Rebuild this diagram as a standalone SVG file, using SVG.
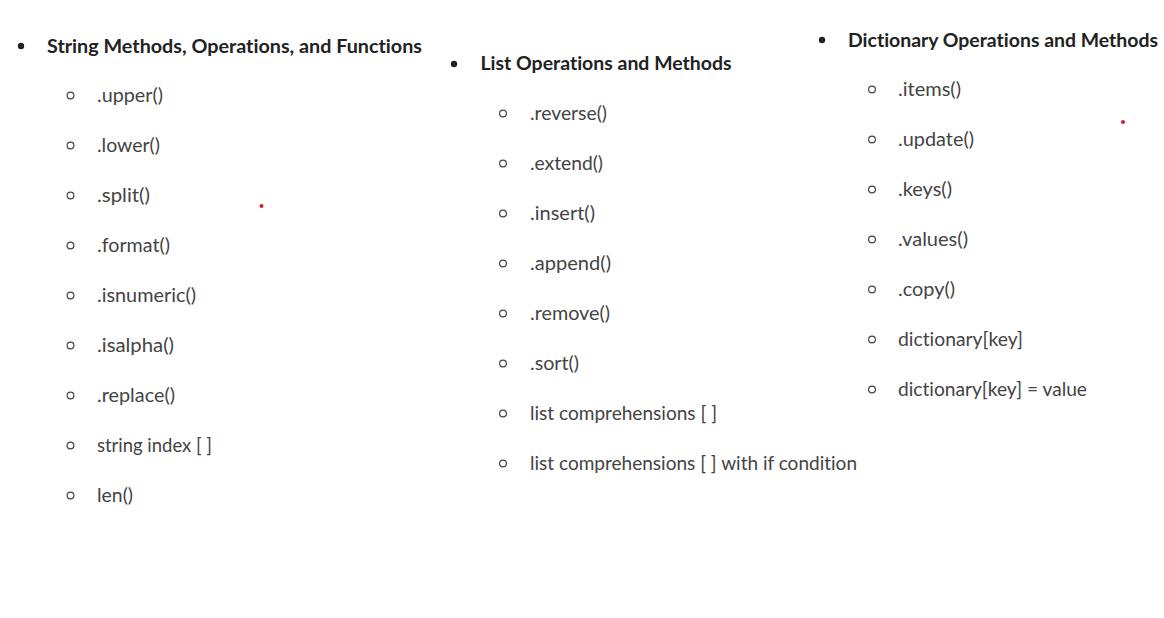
<svg xmlns="http://www.w3.org/2000/svg" width="1164" height="618" viewBox="0 0 1164 618">
<style>
.h{font-family:Lato,"Source Sans Pro","Open Sans",sans-serif;font-weight:bold;font-size:18.5px;fill:#222;font-variant-ligatures:none}
.t{font-family:Lato,"Source Sans Pro","Open Sans",sans-serif;font-size:18.5px;fill:#444;font-variant-ligatures:none}
.d{fill:#222}
.c{fill:none;stroke:#444;stroke-width:1.2}
.r{fill:#d02030}
</style>
<rect width="1164" height="618" fill="#fff"/>
<g id="strings">
<circle class="d" cx="21" cy="46" r="3.2"/>
<text class="h" x="47" y="52.5" textLength="375" lengthAdjust="spacingAndGlyphs">String Methods, Operations, and Functions</text>
<circle class="c" cx="70.5" cy="95.5" r="3.4"/><text class="t" x="97" y="101.5" textLength="66" lengthAdjust="spacingAndGlyphs">.upper()</text>
<circle class="c" cx="70.5" cy="145.5" r="3.4"/><text class="t" x="97" y="151.5" textLength="63" lengthAdjust="spacingAndGlyphs">.lower()</text>
<circle class="c" cx="70.5" cy="195.5" r="3.4"/><text class="t" x="97" y="201.5" textLength="53" lengthAdjust="spacingAndGlyphs">.split()</text>
<circle class="c" cx="70.5" cy="245.5" r="3.4"/><text class="t" x="97" y="251.5" textLength="73" lengthAdjust="spacingAndGlyphs">.format()</text>
<circle class="c" cx="70.5" cy="295.5" r="3.4"/><text class="t" x="97" y="301.5" textLength="99" lengthAdjust="spacingAndGlyphs">.isnumeric()</text>
<circle class="c" cx="70.5" cy="345.5" r="3.4"/><text class="t" x="97" y="351.5" textLength="77" lengthAdjust="spacingAndGlyphs">.isalpha()</text>
<circle class="c" cx="70.5" cy="395.5" r="3.4"/><text class="t" x="97" y="401.5" textLength="78" lengthAdjust="spacingAndGlyphs">.replace()</text>
<circle class="c" cx="70.5" cy="445.5" r="3.4"/><text class="t" x="97" y="451.5" textLength="115" lengthAdjust="spacingAndGlyphs">string index [ ]</text>
<circle class="c" cx="70.5" cy="495.5" r="3.4"/><text class="t" x="97" y="501.5" textLength="36" lengthAdjust="spacingAndGlyphs">len()</text>
</g>
<g id="lists">
<circle class="d" cx="454" cy="64" r="3.2"/>
<text class="h" x="480.5" y="70" textLength="251" lengthAdjust="spacingAndGlyphs">List Operations and Methods</text>
<circle class="c" cx="503" cy="113.5" r="3.4"/><text class="t" x="530" y="119.5" textLength="77" lengthAdjust="spacingAndGlyphs">.reverse()</text>
<circle class="c" cx="503" cy="163.5" r="3.4"/><text class="t" x="530" y="169.5" textLength="73" lengthAdjust="spacingAndGlyphs">.extend()</text>
<circle class="c" cx="503" cy="213.5" r="3.4"/><text class="t" x="530" y="219.5" textLength="65" lengthAdjust="spacingAndGlyphs">.insert()</text>
<circle class="c" cx="503" cy="263.5" r="3.4"/><text class="t" x="530" y="269.5" textLength="81" lengthAdjust="spacingAndGlyphs">.append()</text>
<circle class="c" cx="503" cy="313.5" r="3.4"/><text class="t" x="530" y="319.5" textLength="80" lengthAdjust="spacingAndGlyphs">.remove()</text>
<circle class="c" cx="503" cy="363.5" r="3.4"/><text class="t" x="530" y="369.5" textLength="49" lengthAdjust="spacingAndGlyphs">.sort()</text>
<circle class="c" cx="503" cy="413.5" r="3.4"/><text class="t" x="530" y="419.5" textLength="187" lengthAdjust="spacingAndGlyphs">list comprehensions [ ]</text>
<circle class="c" cx="503" cy="463.5" r="3.4"/><text class="t" x="530" y="469.5" textLength="327" lengthAdjust="spacingAndGlyphs">list comprehensions [ ] with if condition</text>
</g>
<g id="dicts">
<circle class="d" cx="822" cy="40" r="3.2"/>
<text class="h" x="848" y="46.5" textLength="310" lengthAdjust="spacingAndGlyphs">Dictionary Operations and Methods</text>
<circle class="c" cx="872" cy="89.5" r="3.4"/><text class="t" x="898" y="95.5" textLength="63" lengthAdjust="spacingAndGlyphs">.items()</text>
<circle class="c" cx="872" cy="139.5" r="3.4"/><text class="t" x="898" y="145.5" textLength="76" lengthAdjust="spacingAndGlyphs">.update()</text>
<circle class="c" cx="872" cy="189.5" r="3.4"/><text class="t" x="898" y="195.5" textLength="54" lengthAdjust="spacingAndGlyphs">.keys()</text>
<circle class="c" cx="872" cy="239.5" r="3.4"/><text class="t" x="898" y="245.5" textLength="70" lengthAdjust="spacingAndGlyphs">.values()</text>
<circle class="c" cx="872" cy="289.5" r="3.4"/><text class="t" x="898" y="295.5" textLength="57" lengthAdjust="spacingAndGlyphs">.copy()</text>
<circle class="c" cx="872" cy="339.5" r="3.4"/><text class="t" x="898" y="345.5" textLength="125" lengthAdjust="spacingAndGlyphs">dictionary[key]</text>
<circle class="c" cx="872" cy="389.5" r="3.4"/><text class="t" x="898" y="395.5" textLength="189" lengthAdjust="spacingAndGlyphs">dictionary[key] = value</text>
</g>
<g id="marks">
<circle class="r" cx="261.5" cy="206" r="2"/>
<circle class="r" cx="1123" cy="122" r="2"/>
</g>
<g id="connectors"></g>
</svg>
